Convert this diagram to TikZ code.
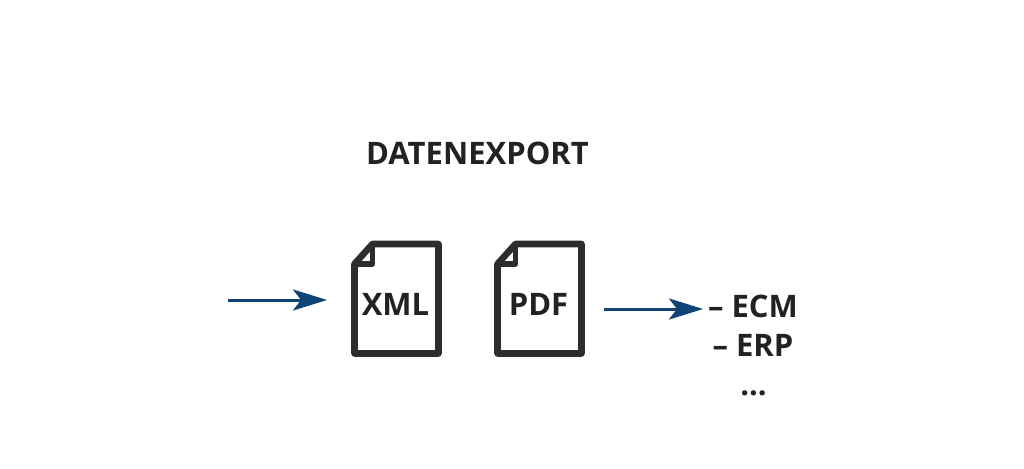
\documentclass[tikz,border=0pt]{standalone}
\usepackage{fontspec}
\setmainfont{Open Sans}
\usetikzlibrary{arrows.meta}
\definecolor{ink}{HTML}{222222}
\definecolor{flow}{HTML}{0F4576}
\tikzset{
  x=1pt,y=-1pt,
  label text/.style={font=\bfseries\fontsize{31}{31}\selectfont,text=ink,inner sep=0pt,anchor=center},
  page line/.style={draw=ink!95!white,line width=6.6pt,line join=round,line cap=round},
  flow arrow/.style={draw=flow,line width=3pt,-{Stealth[length=34pt,width=21pt,inset=8pt,flow]}},
  doc page/.pic={
    \draw[page line] (0,20) -- (18,0) -- (84,0) -- (84,109.5) -- (0,109.5) -- cycle;
    \draw[page line,line width=5.5pt] (18,0) -- (18,20) -- (0,20);
  }
}
\begin{document}
\begin{tikzpicture}
\useasboundingbox (0,0) rectangle (1024,468);
\fill[white] (0,0) rectangle (1024,468);
\node[label text] (title) at (477.5,153) {DATENEXPORT};
\pic at (354.5,244) {doc page};
\pic at (497.5,244) {doc page};
\node[label text] (xml) at (395.5,304) {XML};
\node[label text] (pdf) at (538.5,304) {PDF};
\node[label text] (ecm) at (753,306.5) {– ECM};
\node[label text] (erp) at (753,345.5) {– ERP};
\node[label text] (more) at (753.5,393) {...};
\coordinate (inA) at (228,300);
\coordinate (inB) at (327,300);
\coordinate (outA) at (604,309);
\coordinate (outB) at (703,309);
\draw[flow arrow] (inA) -- (inB);
\draw[flow arrow] (outA) -- (outB);
\end{tikzpicture}
\end{document}
